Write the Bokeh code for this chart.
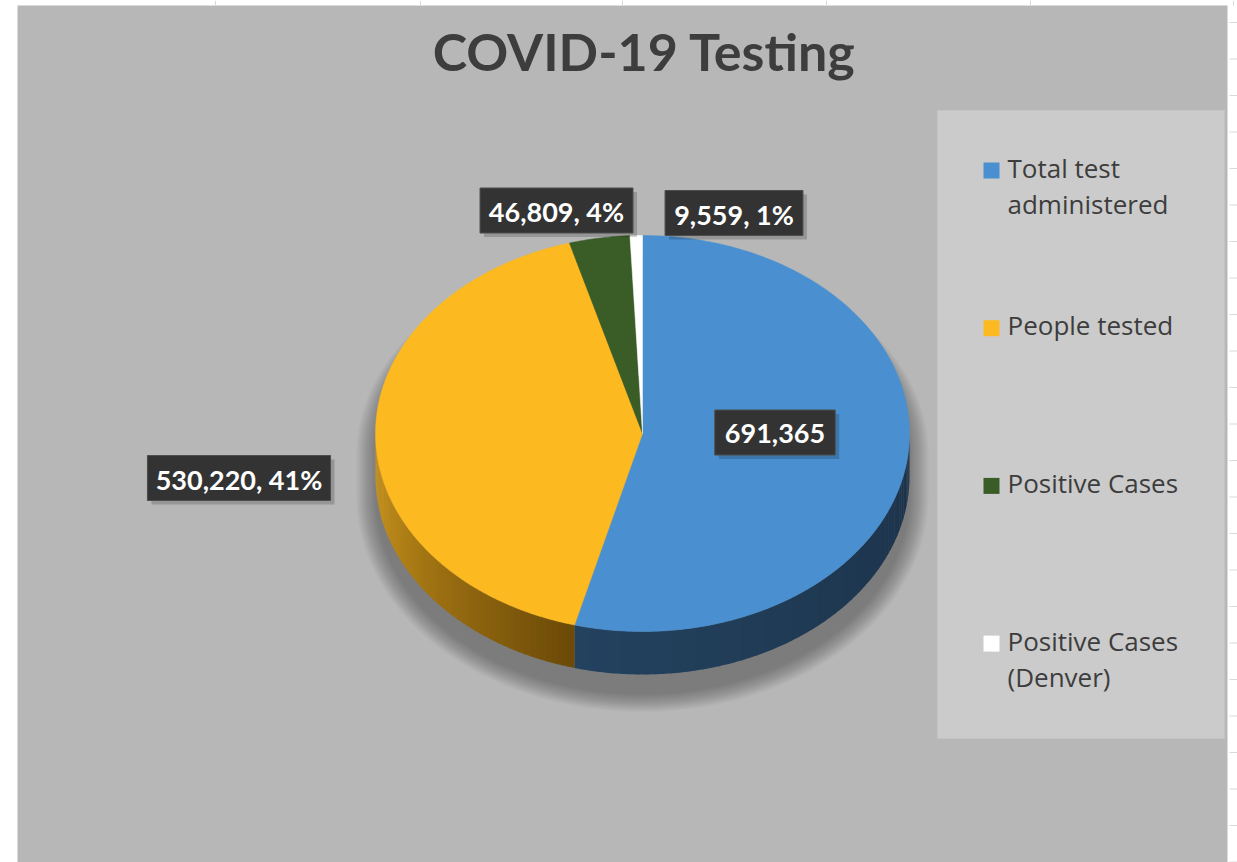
import numpy as np
from bokeh.plotting import figure
from bokeh.models import Range1d
from bokeh.core.properties import value
from bokeh.embed import file_html
from bokeh.resources import INLINE

# ---------------- data ----------------
title = "COVID-19 Testing"
categories = ["Total test administered", "People tested", "Positive Cases", "Positive Cases (Denver)"]
values = [691365, 530220, 46809, 9559]
show_percent = [False, True, True, True]
legend_lines = [["Total test", "administered"], ["People tested"], ["Positive Cases"], ["Positive Cases", "(Denver)"]]
top_colors = ["#4a90d0", "#fdb920", "#3a5d28", "#ffffff"]
side_start = ["#1c3249", "#6b4a08", "#2a441c", "#d0d0d0"]
side_end = ["#23425f", "#d49b1c", "#2a441c", "#d0d0d0"]

# ---------------- layout ----------------
W, H = 1237, 862
X0, Y0 = 0, 0
CX, CY, RX, RY, DEPTH = 642.0, 433.0, 267.0, 198.0, 43.0
BG = "#b7b7b7"
label_centers = [(774.5, 432.0), (238.5, 477.5), (556.0, 210.0), (733.5, 212.5)]
LEGEND_BOX = (937, 1224, 110, 738)
LEG_SQ_X, LEG_TX, LEG_MID0, LEG_STEP, LEG_LINE = 983, 1007, 167, 157.7, 36

p = figure(width=W, height=H, x_range=Range1d(X0, X0 + W), y_range=Range1d(Y0 + H, Y0),
           output_backend="svg", toolbar_location=None, min_border=0,
           x_axis_location=None, y_axis_location=None)
p.grid.visible = False
p.outline_line_color = None
p.background_fill_color = "white"
p.border_fill_color = "white"

# chart area
p.quad(left=[17], right=[1227], top=[5], bottom=[870], fill_color=BG, line_color=None)
# faint spreadsheet gridline marks outside the chart area
p.segment(x0=[215, 420, 622, 826, 1030, 1233], y0=[0] * 6, x1=[215, 420, 622, 826, 1030, 1233], y1=[5] * 6,
          line_color="#d9d9d9", line_width=1)
gy = list(np.arange(22, 862, 36.5))
p.segment(x0=[1229] * len(gy), y0=gy, x1=[1237] * len(gy), y1=gy, line_color="#d9d9d9", line_width=1)

# title
p.text(x=[644], y=[50], text=[title], text_font=value("Lato"), text_font_style="bold",
       text_font_size="52px", text_color="#3d3d3d", text_align="center", text_baseline="middle")

# ---------------- pie geometry ----------------
total = float(sum(values))
fr = np.cumsum([0.0] + [v / total for v in values])
starts = fr[:-1] * 2 * np.pi
ends = fr[1:] * 2 * np.pi

def ex(t, rx=RX):
    return CX + rx * np.sin(t)

def ey(t, ry=RY, dy=0.0):
    return CY - ry * np.cos(t) + dy

# shadow (soft, layered)
tt_up = np.linspace(-np.pi / 2, np.pi / 2, 120)
tt_dn = np.linspace(np.pi / 2, 3 * np.pi / 2, 120)
sh_xs, sh_ys = [], []
for k in np.linspace(32, 0, 17):
    off = 20.0
    rxk = RX + k * 0.6
    xs = list(CX + rxk * np.sin(tt_up)) + list(CX + rxk * np.sin(tt_dn))
    ys = list(CY + off - (RY + k * 0.2) * np.cos(tt_up)) + list(CY + off + DEPTH - (RY + k * 0.55) * np.cos(tt_dn))
    sh_xs.append(xs)
    sh_ys.append(ys)
p.patches(sh_xs, sh_ys, fill_color="black", fill_alpha=0.021, line_color=None)

def hex2rgb(h):
    h = h.lstrip("#")
    return np.array([int(h[i:i + 2], 16) for i in (0, 2, 4)], dtype=float)

def rgb2hex(c):
    return "#%02x%02x%02x" % tuple(int(round(v)) for v in c)

# side walls (front half: pi/2 .. 3pi/2)
s_xs, s_ys, s_col = [], [], []
for i in range(len(values)):
    a0 = max(starts[i], np.pi / 2)
    a1 = min(ends[i], 3 * np.pi / 2)
    if a1 <= a0:
        continue
    n = 60
    edges = np.linspace(a0, a1, n + 1)
    c0, c1 = hex2rgb(side_start[i]), hex2rgb(side_end[i])
    for j in range(n):
        t = np.linspace(edges[j], edges[j + 1] + (0.004 if j < n - 1 else 0), 4)
        xs = list(ex(t)) + list(ex(t[::-1]))
        ys = list(ey(t)) + list(ey(t[::-1], dy=DEPTH))
        s_xs.append(xs)
        s_ys.append(ys)
        s_col.append(rgb2hex(c0 + (c1 - c0) * (j + 0.5) / n))
p.patches(s_xs, s_ys, fill_color=s_col, line_color=None)

# top faces
t_xs, t_ys = [], []
for i in range(len(values)):
    t = np.linspace(starts[i], ends[i], max(4, int((ends[i] - starts[i]) * 80)))
    t_xs.append([CX] + list(ex(t)))
    t_ys.append([CY] + list(ey(t)))
p.patches(t_xs, t_ys, fill_color=top_colors, line_color=top_colors, line_width=0.5)

# ---------------- data labels ----------------
def text_width(s, size):
    w = 0.0
    for ch in s:
        if ch.isdigit():
            w += 0.58
        elif ch == ",":
            w += 0.23
        elif ch == " ":
            w += 0.19
        elif ch == "%":
            w += 0.83
        else:
            w += 0.55
    return w * size

labels = []
for v, sp in zip(values, show_percent):
    if sp:
        labels.append(f"{v:,}, {round(v / total * 100)}%")
    else:
        labels.append(f"{v:,}")

LBL_SIZE = 27
bl, br, bt, bb = [], [], [], []
for (lx, ly), s in zip(label_centers, labels):
    w = text_width(s, 26) + 24
    bl.append(lx - w / 2); br.append(lx + w / 2)
    bt.append(ly - 22.5); bb.append(ly + 22.5)
p.quad(left=[v + 4 for v in bl], right=[v + 4 for v in br], top=[v + 4 for v in bt],
       bottom=[v + 4 for v in bb], fill_color="black", fill_alpha=0.18, line_color=None)
p.quad(left=bl, right=br, top=bt, bottom=bb, fill_color="#333333", line_color="#4d4d4d", line_width=1)
p.text(x=[c[0] for c in label_centers], y=[c[1] + 1 for c in label_centers], text=labels,
       text_font=value("Lato"), text_font_style="bold", text_font_size=f"{LBL_SIZE}px",
       text_color="white", text_align="center", text_baseline="middle")

# ---------------- legend ----------------
l, r, t, b = LEGEND_BOX
p.quad(left=[l], right=[r], top=[t], bottom=[b], fill_color="#cbcbcb", line_color="#c4c4c4")
sq_l, sq_r, sq_t, sq_b = [], [], [], []
tx, ty, tt = [], [], []
for i, lines in enumerate(legend_lines):
    mid = LEG_MID0 + i * LEG_STEP
    sq_l.append(LEG_SQ_X); sq_r.append(LEG_SQ_X + 16)
    sq_t.append(mid - 5); sq_b.append(mid + 11)
    for k, line in enumerate(lines):
        tx.append(LEG_TX); ty.append(mid + k * LEG_LINE); tt.append(line)
p.quad(left=sq_l, right=sq_r, top=sq_t, bottom=sq_b, fill_color=top_colors, line_color=None)
p.text(x=tx, y=ty, text=tt, text_font=value("Open Sans"), text_font_size="26px",
       text_color="#3d3d3d", text_align="left", text_baseline="middle")

open("out.html", "w").write(file_html(p, INLINE))
